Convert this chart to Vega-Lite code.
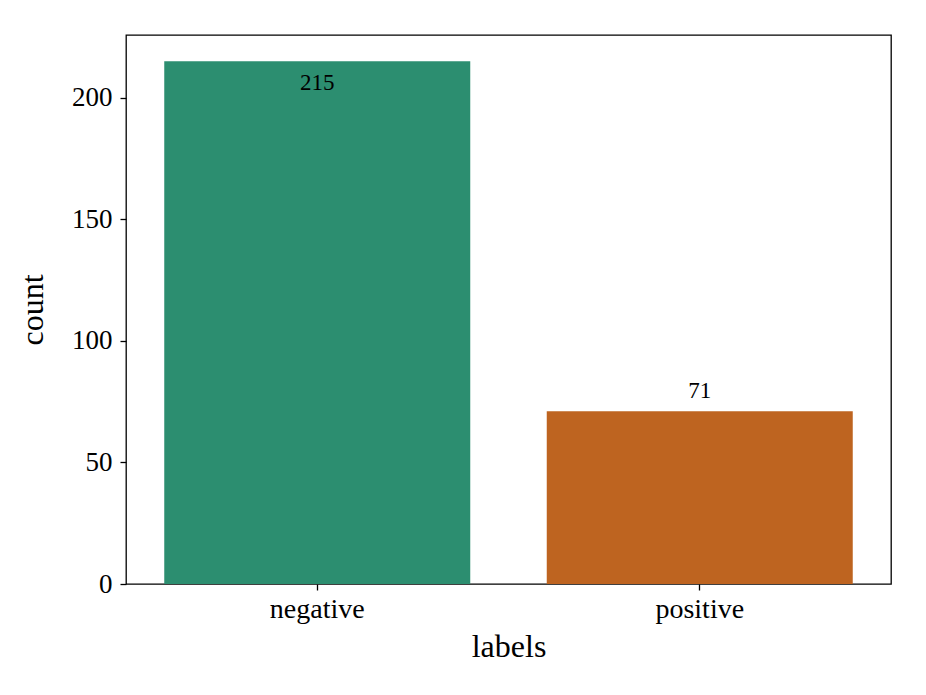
{
  "$schema": "https://vega.github.io/schema/vega-lite/v6.json",
  "width": 765,
  "height": 549,
  "autosize": {"type": "none"},
  "padding": {"left": 126, "top": 35, "right": 35, "bottom": 111},
  "background": "white",
  "config": {
    "font": "Liberation Serif",
    "view": {"stroke": "black", "strokeWidth": 1.3},
    "axis": {"grid": false, "domain": false, "tickColor": "black", "tickSize": 6, "tickWidth": 1.3, "labelColor": "black", "titleColor": "black", "labelFont": "Liberation Serif", "titleFont": "Liberation Serif", "titleFontWeight": "normal"}
  },
  "data": {"values": [
    {"labels": "negative", "count": 215},
    {"labels": "positive", "count": 71}
  ]},
  "encoding": {
    "x": {"field": "labels", "type": "nominal", "scale": {"paddingInner": 0.2, "paddingOuter": 0.1},
      "axis": {"labelAngle": 0, "labelFontSize": 28, "titleFontSize": 32, "labelPadding": 5, "titlePadding": 8}},
    "y": {"field": "count", "type": "quantitative", "scale": {"domain": [0, 225.75], "nice": false},
      "axis": {"values": [0, 50, 100, 150, 200], "labelFontSize": 27, "titleFontSize": 32, "labelPadding": 8, "titlePadding": 22}}
  },
  "layer": [
    {"mark": {"type": "bar"},
     "encoding": {"color": {"field": "labels", "type": "nominal", "scale": {"domain": ["negative", "positive"], "range": ["#2c8e70", "#be6420"]}, "legend": null}}},
    {"transform": [{"filter": "datum.count > 150"}],
     "mark": {"type": "text", "baseline": "middle", "dy": 22, "fontSize": 23, "color": "black"},
     "encoding": {"text": {"field": "count", "type": "quantitative"}}},
    {"transform": [{"filter": "datum.count <= 150"}],
     "mark": {"type": "text", "baseline": "middle", "dy": -20, "fontSize": 23, "color": "black"},
     "encoding": {"text": {"field": "count", "type": "quantitative"}}}
  ]
}
